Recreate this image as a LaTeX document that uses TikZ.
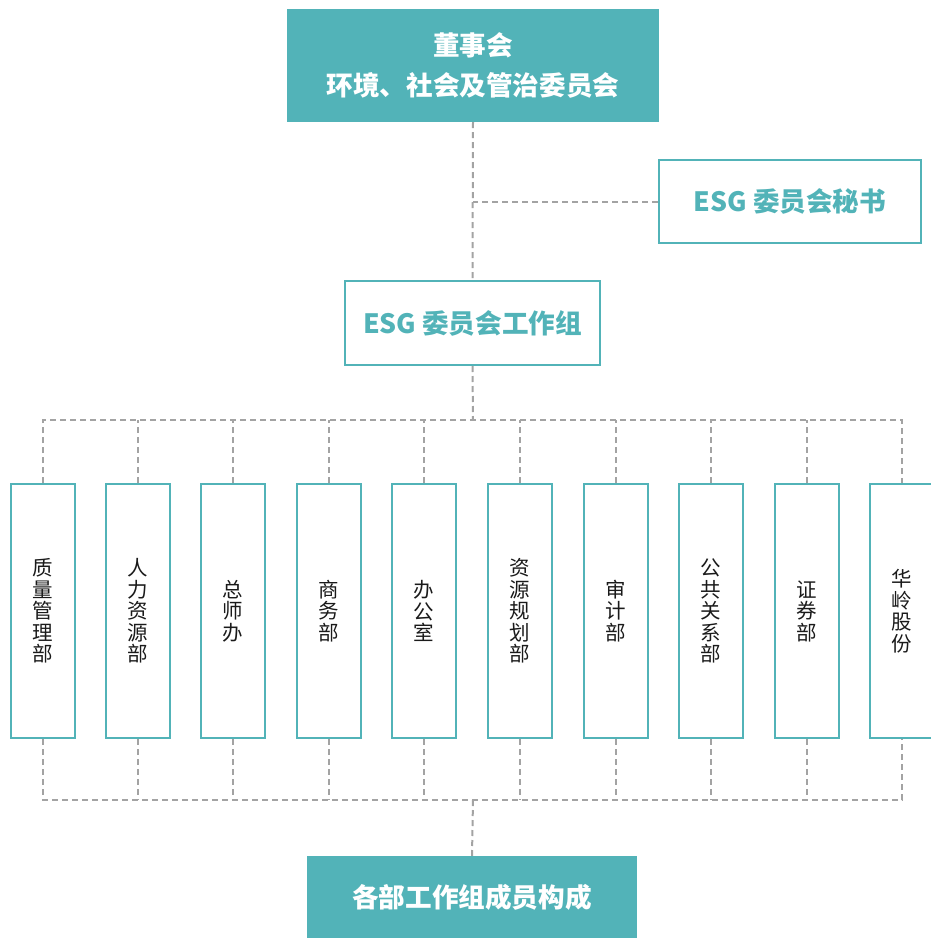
\documentclass[tikz,border=0pt]{standalone}
\usepackage{fontspec}
\newfontfamily\cjk{Noto Sans CJK SC}
\definecolor{tealA}{HTML}{52B3B8}
\definecolor{dashgray}{HTML}{A3A3A3}
\definecolor{inkA}{HTML}{1A1A1A}
\begin{document}
\begin{tikzpicture}[x=1pt,y=-1pt,
  filledbox/.style={fill=tealA, text=white, inner sep=0pt, align=center,
    font=\cjk\bfseries\fontsize{26.6}{40}\selectfont},
  outlbox/.style={draw=tealA, line width=2pt, text=tealA, inner sep=0pt, align=center,
    font=\cjk\bfseries\fontsize{26.6}{32}\selectfont},
  deptbox/.style={draw=tealA, line width=2pt, minimum width=64pt, minimum height=254pt,
    inner sep=0pt, align=center, text=inkA, font=\cjk\fontsize{20.5}{21.5}\selectfont},
  conn/.style={draw=dashgray, line width=2pt, dash pattern=on 6pt off 4pt}]
\useasboundingbox (0,0) rectangle (930,938);
\node[filledbox, minimum width=372pt, minimum height=113pt] (top) at (473,65.5) {董事会\\环境、社会及管治委员会};
\node[outlbox, minimum width=262pt, minimum height=83pt] (sec) at (790,201.5) {ESG 委员会秘书};
\node[outlbox, minimum width=255pt, minimum height=84pt] (wg) at (472.5,323) {ESG 委员会工作组};
\node[filledbox, minimum width=330pt, minimum height=82pt] (bot) at (472,897) {各部工作组成员构成};
\foreach \i/\x/\t in {1/43/{质\\量\\管\\理\\部},2/138/{人\\力\\资\\源\\部},3/233/{总\\师\\办},
  4/329/{商\\务\\部},5/424/{办\\公\\室},6/520/{资\\源\\规\\划\\部},7/616/{审\\计\\部},
  8/711/{公\\共\\关\\系\\部},9/807/{证\\券\\部},10/902/{华\\岭\\股\\份}}{
  \node[deptbox] (d\i) at (\x,611) {\t};
}
\coordinate (hubA) at (473,420);
\coordinate (hubB) at (473,800);
\draw[conn] (top.south) -- (wg.north);
\draw[conn] (sec.west) -- (top.south |- sec.west);
\draw[conn] (wg.south) -- (hubA);
\draw[conn] (d1.north) -- (d1.north |- hubA) -- (d10.north |- hubA) -- (d10.north);
\draw[conn] (d1.south) -- (d1.south |- hubB) -- (d10.south |- hubB) -- (d10.south);
\foreach \i in {2,...,9}{
  \draw[conn] (d\i.north) -- (d\i.north |- hubA);
  \draw[conn] (d\i.south) -- (d\i.south |- hubB);
}
\draw[conn] (hubB) -- (bot.north);
\end{tikzpicture}
\end{document}
